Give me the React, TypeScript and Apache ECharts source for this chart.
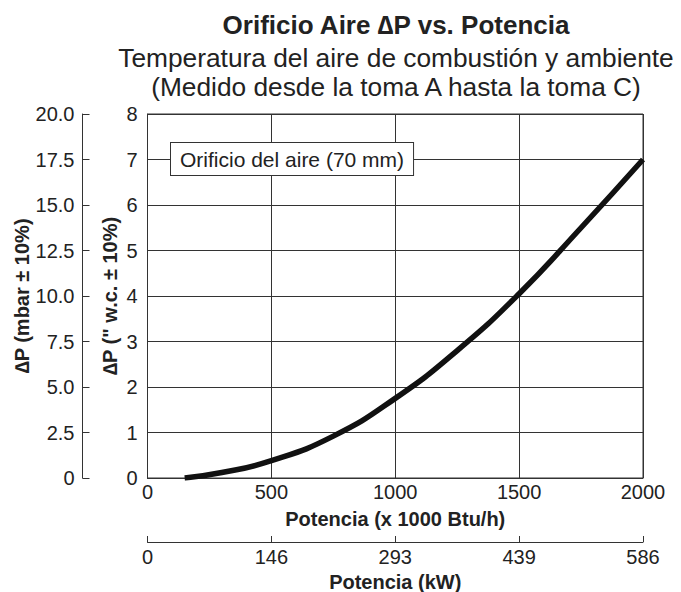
import React, { useEffect, useRef } from "react";
import * as echarts from "echarts";

const powerBtu = [150, 300, 500, 750, 1000, 1250, 1500, 1750, 2000];
const dpInWc = [0, 0.12, 0.38, 0.92, 1.75, 2.8, 4.05, 5.5, 7.0];
const kwTickLabels = ["0", "146", "293", "439", "586"];
const mbarTickLabels = ["0", "2.5", "5.0", "7.5", "10.0", "12.5", "15.0", "17.5", "20.0"];

const FONT = "'Liberation Sans', Arial, Helvetica, sans-serif";
const INK = "#222";

export default function App() {
  const ref = useRef<HTMLDivElement>(null);
  useEffect(() => {
    if (!ref.current) return;
    const chart = echarts.init(ref.current, null, { renderer: "svg" });
    const data = powerBtu.map((x, i) => [x, dpInWc[i]]);
    const cx = 396;
    chart.setOption({
      animation: false,
      backgroundColor: "#fff",
      textStyle: { fontFamily: FONT, color: INK },
      grid: {
        left: 147.5,
        right: 38,
        top: 114,
        bottom: 114,
        show: true,
        borderColor: "#333",
        borderWidth: 1,
        backgroundColor: "transparent",
        outerBoundsMode: "none",
        containLabel: false,
      },
      xAxis: [
        {
          type: "value",
          min: 0,
          max: 2000,
          interval: 500,
          position: "bottom",
          name: "Potencia (x 1000 Btu/h)",
          nameLocation: "middle",
          nameGap: 31,
          nameMoveOverlap: false,
          nameTextStyle: { fontFamily: FONT, fontSize: 20, fontWeight: "bold", color: INK },
          axisLine: { show: true, onZero: false, lineStyle: { color: "#333", width: 1 } },
          axisTick: { show: false },
          axisLabel: {
            fontFamily: FONT,
            fontSize: 20,
            color: INK,
            margin: 4,
            formatter: (v: number) => String(v),
          },
          splitLine: { show: true, lineStyle: { color: "#333", width: 1 } },
        },
        {
          type: "value",
          min: 0,
          max: 586,
          interval: 146.5,
          position: "bottom",
          offset: 64,
          name: "Potencia (kW)",
          nameLocation: "middle",
          nameGap: 30,
          nameMoveOverlap: false,
          nameTextStyle: { fontFamily: FONT, fontSize: 20, fontWeight: "bold", color: INK },
          axisLine: { show: true, onZero: false, lineStyle: { color: "#333", width: 1 } },
          axisTick: { show: true, inside: true, length: 6, lineStyle: { color: "#333" } },
          axisLabel: {
            fontFamily: FONT,
            fontSize: 20,
            color: INK,
            margin: 5,
            formatter: (_v: number, i: number) => kwTickLabels[i] ?? "",
          },
          splitLine: { show: false },
        },
      ],
      yAxis: [
        {
          type: "value",
          min: 0,
          max: 8,
          interval: 1,
          position: "left",
          name: "\u2206P (\" w.c. \u00b1 10%)",
          nameLocation: "middle",
          nameGap: 28,
          nameMoveOverlap: false,
          nameRotate: 90,
          nameTextStyle: { fontFamily: FONT, fontSize: 20, fontWeight: "bold", color: INK },
          axisLine: { show: true, onZero: false, lineStyle: { color: "#333", width: 1 } },
          axisTick: { show: false },
          axisLabel: { fontFamily: FONT, fontSize: 20, color: INK, margin: 10 },
          splitLine: { show: true, lineStyle: { color: "#333", width: 1 } },
        },
        {
          type: "value",
          min: 0,
          max: 20,
          interval: 2.5,
          position: "left",
          offset: 65,
          name: "\u2206P (mbar \u00b1 10%)",
          nameLocation: "middle",
          nameGap: 51,
          nameMoveOverlap: false,
          nameRotate: 90,
          nameTextStyle: { fontFamily: FONT, fontSize: 20, fontWeight: "bold", color: INK },
          axisLine: { show: true, onZero: false, lineStyle: { color: "#333", width: 1 } },
          axisTick: { show: true, inside: true, length: 7, lineStyle: { color: "#333" } },
          axisLabel: {
            fontFamily: FONT,
            fontSize: 20,
            color: INK,
            margin: 8,
            formatter: (_v: number, i: number) => mbarTickLabels[i] ?? "",
          },
          splitLine: { show: false },
        },
      ],
      graphic: [
        {
          type: "text",
          x: cx,
          y: 12,
          style: {
            text: "Orificio Aire \u2206P vs. Potencia",
            fontFamily: FONT,
            fontSize: 26,
            fontWeight: "bold",
            fill: INK,
            align: "center",
            verticalAlign: "top",
          },
        },
        {
          type: "text",
          x: cx,
          y: 45,
          style: {
            text: "Temperatura del aire de combustión y ambiente",
            fontFamily: FONT,
            fontSize: 26.3,
            fill: INK,
            align: "center",
            verticalAlign: "top",
          },
        },
        {
          type: "text",
          x: cx,
          y: 74,
          style: {
            text: "(Medido desde la toma A hasta la toma C)",
            fontFamily: FONT,
            fontSize: 26.3,
            fill: INK,
            align: "center",
            verticalAlign: "top",
          },
        },
        {
          type: "text",
          x: 171,
          y: 143,
          z: 100,
          style: {
            text: "Orificio del aire (70 mm)",
            fontFamily: FONT,
            fontSize: 21,
            fill: INK,
            backgroundColor: "#fff",
            borderColor: "#333",
            borderWidth: 1,
            padding: [6, 9, 5, 9],
          },
        },
      ],
      series: [
        {
          type: "line",
          xAxisIndex: 0,
          yAxisIndex: 0,
          data,
          smooth: 0.5,
          showSymbol: false,
          symbol: "none",
          lineStyle: { color: "#111", width: 5.5, cap: "butt" },
          z: 10,
        },
      ],
    });
    return () => chart.dispose();
  }, []);
  return <div ref={ref} style={{ width: 681, height: 592, position: "absolute", left: 0, top: 0 }} />;
}
